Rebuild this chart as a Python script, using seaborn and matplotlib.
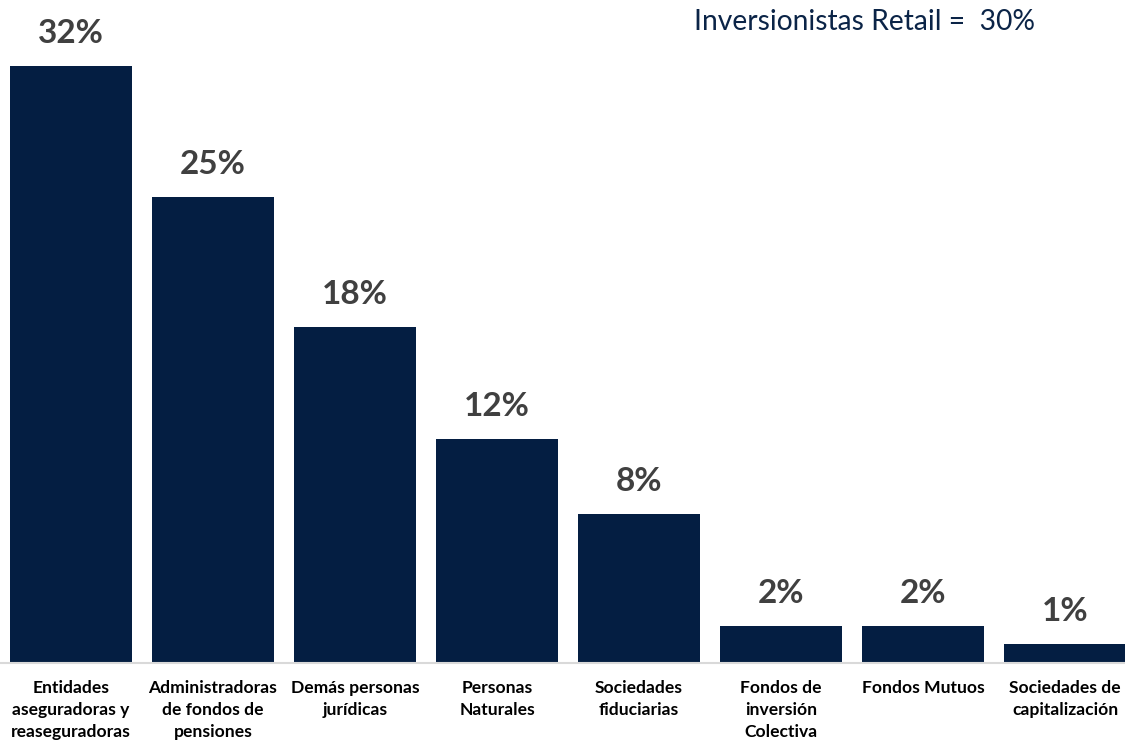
import matplotlib
matplotlib.use("Agg")
import matplotlib.pyplot as plt
import seaborn as sns
import pandas as pd

categories = [
    "Entidades\naseguradoras y\nreaseguradoras",
    "Administradoras\nde fondos de\npensiones",
    "Demás personas\njurídicas",
    "Personas\nNaturales",
    "Sociedades\nfiduciarias",
    "Fondos de\ninversión\nColectiva",
    "Fondos Mutuos",
    "Sociedades de\ncapitalización",
]
values = [32, 25, 18, 12, 8, 2, 2, 1]
title_text = "Inversionistas Retail =  30%"

sns.set_theme(style="white")
plt.rcParams['font.family'] = ['Lato', 'DejaVu Sans']

df = pd.DataFrame({"cat": categories, "val": values})

fig = plt.figure(figsize=(11.25, 7.43), dpi=100)
ax = fig.add_axes([0.0, 80/743, 1136/1125, 663/743])
navy = "#041E42"
sns.barplot(data=df, x="cat", y="val", color=navy, width=0.866, ax=ax,
            saturation=1, edgecolor="none")
ax.set_xlim(-0.5, 7.5)
ax.set_ylim(0, 663/18.66)
ax.set_xlabel("")
ax.set_ylabel("")
ax.set_yticks([])
for s in ["top", "right", "left"]:
    ax.spines[s].set_visible(False)
ax.spines["bottom"].set_color("#D9D9D9")
ax.spines["bottom"].set_linewidth(1.5)
ax.tick_params(axis="x", length=0, pad=12)
for lbl in ax.get_xticklabels():
    lbl.set_fontsize(12.6)
    lbl.set_fontweight("bold")
    lbl.set_color("#000000")
    lbl.set_linespacing(1.48)
    lbl.set_va("top")

for i, v in enumerate(values):
    ax.annotate(f"{v}%", (i, v), xytext=(0, 16.5), textcoords="offset points",
                ha="center", va="baseline", fontsize=24, fontweight="bold",
                color="#404040")

fig.text(864/1125, 1 - 22/743, title_text, ha="center", va="center",
         fontsize=20.3, color="#0B2447")

fig.savefig("out.png", dpi=100)
